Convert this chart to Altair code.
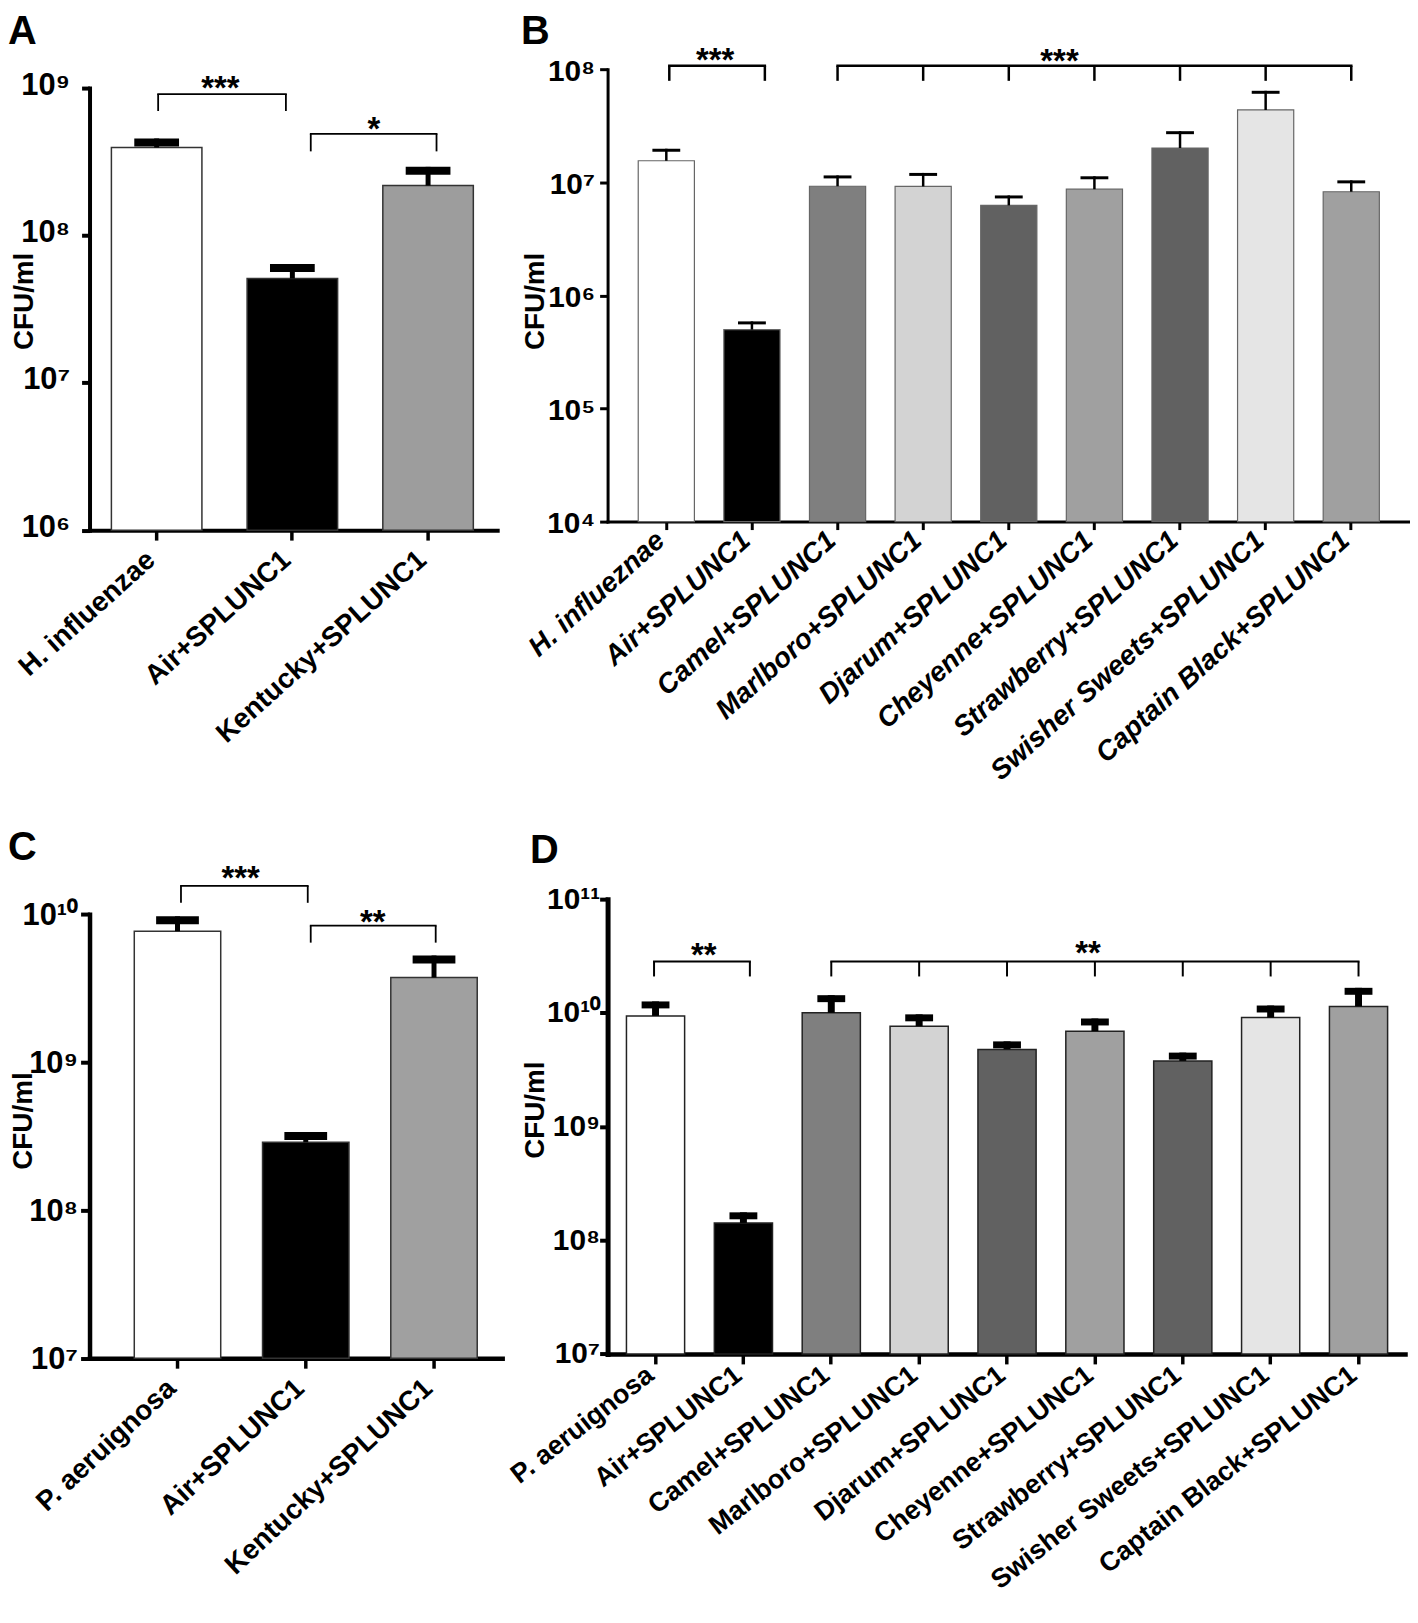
import math
import altair as alt
import pandas as pd

FONT = "Liberation Sans"
SUP = str.maketrans("0123456789", "⁰¹²³⁴⁵⁶⁷⁸⁹")

# ---------------- data ----------------
a_groups = ["H. influenzae", "Air+SPLUNC1", "Kentucky+SPLUNC1"]
a_means = [3.95e8, 5.1e7, 2.18e8]
a_upper = [4.55e8, 6.4e7, 2.92e8]
a_ticks = [1e6, 1e7, 1e8, 1e9]

b_groups = ["H. influeznae", "Air+SPLUNC1", "Camel+SPLUNC1", "Marlboro+SPLUNC1",
            "Djarum+SPLUNC1", "Cheyenne+SPLUNC1", "Strawberry+SPLUNC1",
            "Swisher Sweets+SPLUNC1", "Captain Black+SPLUNC1"]
b_means = [1.55e7, 4.98e5, 9.23e6, 9.2e6, 6.25e6, 8.69e6, 2.01e7, 4.36e7, 8.25e6]
b_upper = [1.98e7, 5.89e5, 1.15e7, 1.21e7, 7.65e6, 1.13e7, 2.83e7, 6.44e7, 1.04e7]
b_ticks = [1e4, 1e5, 1e6, 1e7, 1e8]

c_groups = ["P. aeruignosa", "Air+SPLUNC1", "Kentucky+SPLUNC1"]
c_means = [7.7e9, 2.88e8, 3.74e9]
c_upper = [9.7e9, 3.38e8, 5.27e9]
c_ticks = [1e7, 1e8, 1e9, 1e10]

d_groups = ["P. aeruignosa", "Air+SPLUNC1", "Camel+SPLUNC1", "Marlboro+SPLUNC1",
            "Djarum+SPLUNC1", "Cheyenne+SPLUNC1", "Strawberry+SPLUNC1",
            "Swisher Sweets+SPLUNC1", "Captain Black+SPLUNC1"]
d_means = [9.4e9, 1.42e8, 1.0e10, 7.64e9, 4.77e9, 6.9e9, 3.78e9, 9.1e9, 1.14e10]
d_upper = [1.26e10, 1.76e8, 1.43e10, 9.7e9, 5.61e9, 8.92e9, 4.47e9, 1.16e10, 1.66e10]
d_ticks = [1e7, 1e8, 1e9, 1e10, 1e11]

# significance brackets
a_sig_groups = [a_groups[0:2], a_groups[1:3]]
a_sig_top = [9.11e8, 4.89e8]
a_sig_bottom = [6.99e8, 3.72e8]
a_sig_label = ["***", "*"]

b_sig_groups = [b_groups[0:2], b_groups[2:9]]
b_sig_top = [1.07e8, 1.07e8]
b_sig_bottom = [7.89e7, 7.89e7]
b_sig_label = ["***", "***"]

c_sig_groups = [c_groups[0:2], c_groups[1:3]]
c_sig_top = [1.556e10, 8.38e9]
c_sig_bottom = [1.197e10, 6.44e9]
c_sig_label = ["***", "**"]

d_sig_groups = [d_groups[0:2], d_groups[2:9]]
d_sig_top = [2.83e10, 2.83e10]
d_sig_bottom = [2.09e10, 2.09e10]
d_sig_label = ["**", "**"]

# ---------------- palettes ----------------
a_colors = ["#ffffff", "#000000", "#9d9d9d"]
c_colors = ["#ffffff", "#000000", "#a0a0a0"]
bd_colors = ["#ffffff", "#000000", "#7f7f7f", "#d3d3d3", "#616161",
             "#a0a0a0", "#616161", "#e5e5e5", "#a0a0a0"]

# ---------------- per-panel styling ----------------
A_ST = dict(width=410, height=463.6, ytop=19.0, ybot=463.6, pi=0.333, po=0.1685, align=0.478,
            bar_stroke="#333333", bar_sw=1.5, stem=5, cap_t=8, cap_w=45,
            y_dom=4, y_tick_w=4, y_tick=8, y_lab=31, y_pad=12, y_off=-3,
            x_dom=4, x_tick_w=3.5, x_tick=10, x_lab=28, x_style="normal", angle=318, x_pad=22, x_off=0,
            title_x=-65, title_y=233, letter_x=-82, letter_y=-57, br_w=1.8, star=33,
            sig_offs=[[1.5, -6.5], [18.5, 8.5]], sig_text=[(0, 64, 4.5), (1, 82, 6.5)])

B_ST = dict(width=807, height=463.6, ytop=0, ybot=455, pi=0.344, po=0.358, align=0.5,
            bar_stroke="#666666", bar_sw=1.2, stem=2.5, cap_t=3, cap_w=28,
            y_dom=3, y_tick_w=3, y_tick=8, y_lab=30, y_pad=5, y_off=2,
            x_dom=3, x_tick_w=3, x_tick=8, x_lab=28, x_style="italic", angle=318, x_pad=13, x_off=-8.6,
            title_x=-72.4, title_y=233, letter_x=-87, letter_y=-57, br_w=2.5, star=33,
            sig_offs=[[3, 13], [0] * 7], sig_text=[(0, 49, 5), (4, 51, 6.5)])

C_ST = dict(width=415, height=461.7, ytop=15.3, ybot=461.7, pi=0.326, po=0.2717, align=0.642,
            bar_stroke="#333333", bar_sw=1.5, stem=5, cap_t=8, cap_w=43,
            y_dom=4.5, y_tick_w=4, y_tick=9, y_lab=31, y_pad=3, y_off=1,
            x_dom=4.5, x_tick_w=3.5, x_tick=10, x_lab=28, x_style="normal", angle=317, x_pad=22, x_off=0,
            title_x=-66, title_y=222.7, letter_x=-82, letter_y=-71.8, br_w=1.8, star=33,
            sig_offs=[[3.5, 2], [5, 1.7]], sig_text=[(0, 63.5, 3.5), (1, 67.5, 7.5)])

D_ST = dict(width=802, height=461.7, ytop=0, ybot=457.4, pi=0.338, po=0.2065, align=0.52,
            bar_stroke="#222222", bar_sw=1.5, stem=7, cap_t=7, cap_w=28,
            y_dom=5, y_tick_w=4, y_tick=8, y_lab=30, y_pad=0, y_off=0,
            x_dom=4.5, x_tick_w=3.5, x_tick=10, x_lab=27, x_style="normal", angle=322, x_pad=14, x_off=-4.3,
            title_x=-72.4, title_y=211.7, letter_x=-78, letter_y=-68.8, br_w=2, star=33,
            sig_offs=[[-1.5, 6.5], [0] * 7], sig_text=[(0, 48.5, 4.5), (5, -7, 2.5)])


def label_expr(ticks):
    parts = [f"datum.value == {t:.0f} ? '10{str(round(math.log10(t))).translate(SUP)}'" for t in ticks]
    return " : ".join(parts) + " : ''"


def panel(letter, groups, means, upper, ticks, colors, sig_groups, sig_top, sig_bottom, sig_label, st):
    df = pd.DataFrame({"group": groups, "mean": means, "upper": upper})
    xs = alt.Scale(domain=groups, paddingInner=st["pi"], paddingOuter=st["po"], align=st["align"])
    ys = alt.Scale(type="log", domain=[ticks[0], ticks[-1]], range=[st["ybot"], st["ytop"]], nice=False)

    x_axis = alt.Axis(title=None, labelAngle=st["angle"], labelAlign="right", labelBaseline="alphabetic",
                      labelFont=FONT, labelFontSize=st["x_lab"], labelFontWeight="bold",
                      labelFontStyle=st["x_style"], labelColor="black", labelPadding=st["x_pad"],
                      labelLimit=0, labelOverlap=False, domainColor="black", domainWidth=st["x_dom"],
                      domainCap="square", tickColor="black", tickWidth=st["x_tick_w"],
                      tickSize=st["x_tick"], offset=st["x_off"], grid=False)
    y_axis = alt.Axis(title="CFU/ml", values=ticks, labelExpr=label_expr(ticks),
                      labelFont=FONT, labelFontSize=st["y_lab"], labelFontWeight="bold", labelColor="black",
                      labelPadding=st["y_pad"], labelOffset=st["y_off"], labelOverlap=False, labelLimit=0,
                      domainColor="black", domainWidth=st["y_dom"], domainCap="square",
                      tickColor="black", tickWidth=st["y_tick_w"], tickSize=st["y_tick"], grid=False,
                      titleFont=FONT, titleFontSize=28, titleFontWeight="bold", titleColor="black",
                      titleAngle=270, titleAlign="center", titleBaseline="middle",
                      titleX=st["title_x"], titleY=st["title_y"])

    def X(field):
        return alt.X(f"{field}:N", scale=xs, axis=x_axis, title=None, sort=groups)

    def Y(field):
        return alt.Y(f"{field}:Q", scale=ys, axis=y_axis, title="CFU/ml")

    base = alt.Chart(df)
    bars = base.mark_bar(stroke=st["bar_stroke"], strokeWidth=st["bar_sw"], opacity=1).encode(
        x=X("group"), y=Y("mean"), y2=alt.datum(ticks[0]),
        color=alt.Color("group:N", scale=alt.Scale(domain=groups, range=colors), legend=None))
    stems = base.mark_rule(color="black", strokeWidth=st["stem"]).encode(
        x=X("group"), y=Y("mean"), y2=alt.Y2("upper"))
    caps = base.mark_tick(color="black", thickness=st["cap_t"], size=st["cap_w"],
                          yOffset=st["cap_t"] / 2, opacity=1).encode(x=X("group"), y=Y("upper"))
    layers = [bars, stems, caps]

    for k, cats in enumerate(sig_groups):
        offs = st["sig_offs"][k]
        hdf = pd.DataFrame({"group": [cats[0]], "r": [cats[-1]], "y": [sig_top[k]]})
        layers.append(alt.Chart(hdf).mark_rule(color="black", strokeWidth=st["br_w"], strokeCap="square",
                                               xOffset=offs[0], x2Offset=offs[-1]).encode(
            x=X("group"), x2=alt.X2("r"), y=Y("y")))
        for j, c in enumerate(cats):
            vdf = pd.DataFrame({"group": [c], "y": [sig_top[k]], "y2": [sig_bottom[k]]})
            layers.append(alt.Chart(vdf).mark_rule(color="black", strokeWidth=st["br_w"],
                                                   xOffset=offs[j]).encode(
                x=X("group"), y=Y("y"), y2=alt.Y2("y2")))
        ci, dx, dy = st["sig_text"][k]
        tdf = pd.DataFrame({"group": [groups[ci]], "y": [sig_top[k]], "t": [sig_label[k]]})
        layers.append(alt.Chart(tdf).mark_text(font=FONT, fontSize=st["star"], fontWeight="bold",
                                               align="center", baseline="alphabetic", dx=dx, dy=dy,
                                               color="black").encode(
            x=X("group"), y=Y("y"), text="t:N"))

    ldf = pd.DataFrame({"t": [letter]})
    layers.append(alt.Chart(ldf).mark_text(font=FONT, fontSize=40, fontWeight="bold", align="left",
                                           baseline="top", color="black").encode(
        text="t:N", x=alt.value(st["letter_x"]), y=alt.value(st["letter_y"])))

    return alt.layer(*layers).properties(width=st["width"], height=st["height"])


pa = panel("A", a_groups, a_means, a_upper, a_ticks, a_colors,
           a_sig_groups, a_sig_top, a_sig_bottom, a_sig_label, A_ST)
pb = panel("B", b_groups, b_means, b_upper, b_ticks, bd_colors,
           b_sig_groups, b_sig_top, b_sig_bottom, b_sig_label, B_ST)
pc = panel("C", c_groups, c_means, c_upper, c_ticks, c_colors,
           c_sig_groups, c_sig_top, c_sig_bottom, c_sig_label, C_ST)
pdd = panel("D", d_groups, d_means, d_upper, d_ticks, bd_colors,
            d_sig_groups, d_sig_top, d_sig_bottom, d_sig_label, D_ST)

chart = alt.concat(pa, pb, pc, pdd, columns=2, spacing={"row": 370.7, "column": 106},
                   align="none", bounds="flush").resolve_scale(
    color="independent", x="independent", y="independent").properties(
    padding=0, background="white").configure_view(stroke=None)

chart.save("out.html", embed_options={"renderer": "svg", "actions": False})
